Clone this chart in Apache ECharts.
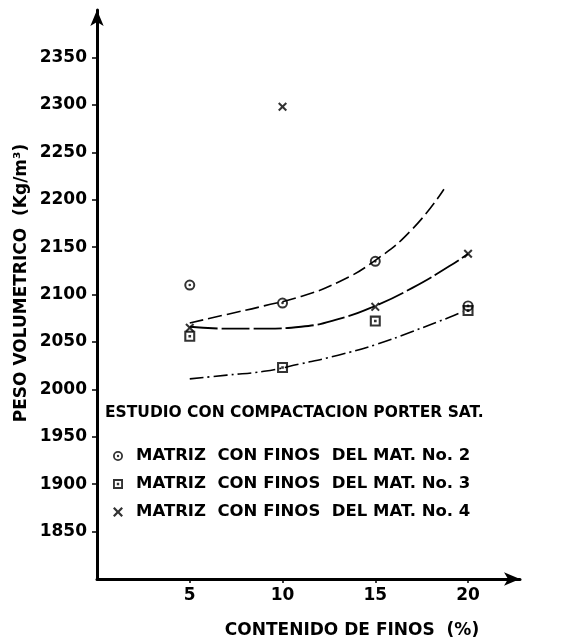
<!DOCTYPE html>
<html>
<head>
<meta charset="utf-8">
<script src="https://cdn.jsdelivr.net/npm/echarts@6/dist/echarts.min.js"></script>
<style>
  html, body { margin: 0; padding: 0; background: #fff; }
  #chart { width: 574px; height: 641px; }
</style>
</head>
<body>
<div id="chart"></div>
<script>
// Contenido de finos (%) de cada ensaye
const finos = [5, 10, 15, 20];

// Peso volumétrico medido (kg/m3) por material de finos
const mat2 = [2110, 2091, 2135, 2088];
const mat3 = [2056, 2023, 2072, 2083];
const mat4 = [2065, 2298, 2087, 2143];

// Curvas de tendencia trazadas a mano (x = % finos, y = kg/m3)
const curvaMat2X = [5, 7, 9, 11, 13, 15, 17, 18.7];
const curvaMat2Y = [2070, 2079, 2088, 2098, 2113, 2136, 2169, 2211];
const curvaMat3X = [5, 7, 9, 11, 13, 15, 17, 19, 19.7];
const curvaMat3Y = [2011, 2015, 2019, 2027, 2036, 2047, 2061, 2076, 2082];
const curvaMat4X = [5, 7, 9, 11, 13, 15, 17, 19, 20];
const curvaMat4Y = [2066, 2064, 2064, 2066, 2074, 2088, 2107, 2130, 2143];

// Etiquetas visibles de los ejes
const xTicks = [5, 10, 15, 20];
const yTicks = [1850, 1900, 1950, 2000, 2050, 2100, 2150, 2200, 2250, 2300, 2350];

const nombres = [
  'MATRIZ  CON FINOS  DEL MAT. No. 2',
  'MATRIZ  CON FINOS  DEL MAT. No. 3',
  'MATRIZ  CON FINOS  DEL MAT. No. 4'
];

// Marcadores: círculo con punto, cuadro con punto, cruz
const simCirculo = 'path://M5,0 A5,5 0 1,1 5,10 A5,5 0 1,1 5,0 Z M5,1.8 A3.2,3.2 0 1,0 5,8.2 A3.2,3.2 0 1,0 5,1.8 Z M5,3.8 A1.2,1.2 0 1,1 5,6.2 A1.2,1.2 0 1,1 5,3.8 Z';
const simCuadro = 'path://M0,0 H10 V10 H0 Z M1.9,1.9 V8.1 H8.1 V1.9 Z M3.8,3.8 H6.2 V6.2 H3.8 Z';
const simCruz = 'path://M0,1.6 L1.6,0 L5,3.4 L8.4,0 L10,1.6 L6.6,5 L10,8.4 L8.4,10 L5,6.6 L1.6,10 L0,8.4 L3.4,5 Z';

const pares = (xs, ys) => xs.map((x, i) => [x, ys[i]]);
const fuente = 'bold 17px "DejaVu Sans"';

const chart = echarts.init(document.getElementById('chart'), null, { renderer: 'canvas' });

const ejeLinea = {
  lineStyle: { color: '#000', width: 3 },
  symbol: ['none', 'arrow'],
  symbolSize: [10, 16]
};
const ejeTexto = {
  color: '#000',
  fontFamily: 'DejaVu Sans',
  fontWeight: 'bold',
  fontSize: 17,
  formatter: v => String(v)
};

const curva = (nombre, xs, ys, tipo, ancho) => ({
  name: nombre,
  type: 'line',
  smooth: true,
  showSymbol: false,
  silent: true,
  data: pares(xs, ys),
  lineStyle: { color: '#000', width: ancho, type: tipo }
});

chart.setOption({
  backgroundColor: '#fff',
  animation: false,
  grid: { left: 97, right: 54, top: 10, bottom: 62, containLabel: false },
  xAxis: {
    type: 'value',
    min: 0,
    max: 22.8,
    interval: 5,
    splitLine: { show: false },
    axisLine: ejeLinea,
    axisTick: { lineStyle: { color: '#000', width: 1.5 }, length: 4, customValues: xTicks },
    axisLabel: Object.assign({ margin: 8, customValues: xTicks }, ejeTexto)
  },
  yAxis: {
    type: 'value',
    min: 1800,
    max: 2400,
    interval: 50,
    splitLine: { show: false },
    axisLine: ejeLinea,
    axisTick: { lineStyle: { color: '#000', width: 1.5 }, length: 5, customValues: yTicks },
    axisLabel: Object.assign({ margin: 10, customValues: yTicks }, ejeTexto)
  },
  legend: {
    data: [
      { name: nombres[0], icon: simCirculo },
      { name: nombres[1], icon: simCuadro },
      { name: nombres[2], icon: simCruz }
    ],
    orient: 'vertical',
    left: 108,
    top: 442,
    itemWidth: 18,
    itemHeight: 10,
    itemGap: 10,
    selectedMode: false,
    textStyle: {
      color: '#000',
      fontFamily: 'DejaVu Sans',
      fontWeight: 'bold',
      fontSize: 16.5,
      lineHeight: 18,
      padding: [0, 0, 0, 4]
    }
  },
  graphic: [
    {
      type: 'text',
      x: 22,
      y: 283,
      rotation: Math.PI / 2,
      style: {
        text: 'PESO VOLUMETRICO  (Kg/m³)',
        x: 0,
        y: 0,
        align: 'center',
        verticalAlign: 'middle',
        font: fuente,
        fill: '#000'
      }
    },
    {
      type: 'text',
      x: 352,
      y: 631,
      style: {
        text: 'CONTENIDO DE FINOS  (%)',
        x: 0,
        y: 0,
        align: 'center',
        verticalAlign: 'middle',
        font: fuente,
        fill: '#000'
      }
    },
    {
      type: 'text',
      x: 105,
      y: 413,
      style: {
        text: 'ESTUDIO CON COMPACTACION PORTER SAT.',
        x: 0,
        y: 0,
        align: 'left',
        verticalAlign: 'middle',
        font: 'bold 15.5px "DejaVu Sans"',
        fill: '#000'
      }
    }
  ],
  series: [
    curva('tendencia 2', curvaMat2X, curvaMat2Y, [14, 5], 1.6),
    curva('tendencia 3', curvaMat3X, curvaMat3Y, [14, 4, 2, 4], 1.6),
    curva('tendencia 4', curvaMat4X, curvaMat4Y, [28, 4], 1.8),
    {
      name: nombres[0],
      type: 'scatter',
      symbol: simCirculo,
      symbolSize: 11,
      itemStyle: { color: '#000' },
      data: pares(finos, mat2),
      z: 5
    },
    {
      name: nombres[1],
      type: 'scatter',
      symbol: simCuadro,
      symbolSize: 11,
      itemStyle: { color: '#000' },
      data: pares(finos, mat3),
      z: 5
    },
    {
      name: nombres[2],
      type: 'scatter',
      symbol: simCruz,
      symbolSize: 9,
      itemStyle: { color: '#000' },
      data: pares(finos, mat4),
      z: 5
    }
  ]
});
</script>
</body>
</html>
